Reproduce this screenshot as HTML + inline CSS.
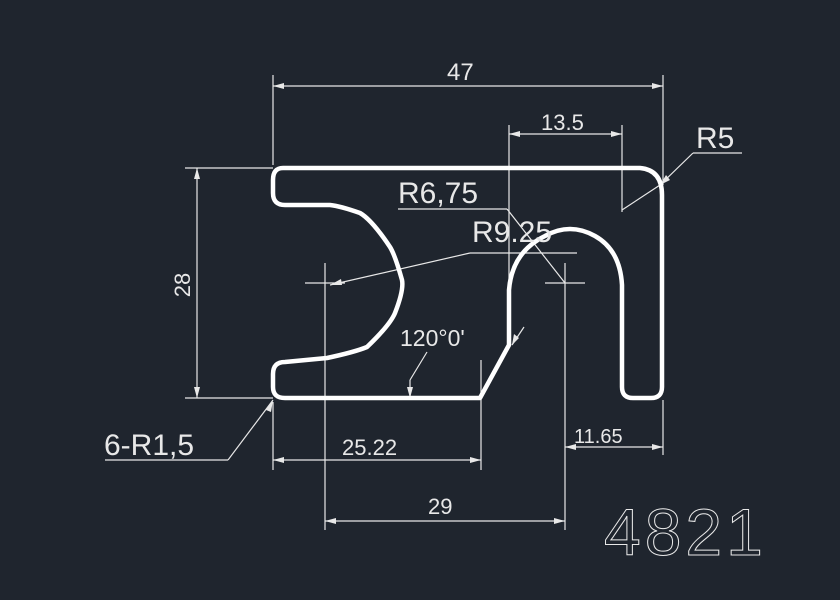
<!DOCTYPE html>
<html><head><style>
html,body{margin:0;padding:0;background:#1f252e;}
svg{display:block;}
text{font-family:"Liberation Sans",sans-serif;fill:#e8e8e8;}
text.o{fill:none;stroke:#e8e8e8;stroke-width:1;}
</style></head><body>
<svg width="840" height="600" viewBox="0 0 840 600" xmlns="http://www.w3.org/2000/svg">
<rect width="840" height="600" fill="#1f252e"/>
<g stroke="#e8e8e8" stroke-width="1.2" fill="none">
<line x1="273" y1="75" x2="273" y2="165"/>
<line x1="663" y1="75" x2="663" y2="185"/>
<line x1="273" y1="86" x2="663" y2="86"/>
<line x1="509" y1="125" x2="509" y2="283"/>
<line x1="622" y1="125" x2="622" y2="212"/>
<line x1="509" y1="134" x2="622" y2="134"/>
<line x1="693" y1="153" x2="742" y2="153"/>
<polyline points="693,153 660,185 622,210"/>
<line x1="185" y1="168" x2="273" y2="168"/>
<line x1="185" y1="398" x2="273" y2="398"/>
<line x1="197" y1="168" x2="197" y2="398"/>
<line x1="398" y1="209" x2="507" y2="209"/>
<line x1="507" y1="209" x2="565" y2="283"/>
<line x1="470" y1="253" x2="577" y2="253"/>
<line x1="470" y1="253" x2="330" y2="285"/>
<line x1="305" y1="283" x2="345" y2="283"/>
<line x1="325" y1="263" x2="325" y2="530"/>
<line x1="545" y1="283" x2="585" y2="283"/>
<line x1="565" y1="263" x2="565" y2="530"/>
<line x1="427" y1="352" x2="410" y2="380"/>
<line x1="410" y1="380" x2="410" y2="398"/>
<line x1="524" y1="327" x2="512" y2="345"/>
<line x1="481" y1="360" x2="481" y2="470"/>
<line x1="273" y1="402" x2="273" y2="470"/>
<line x1="273" y1="460" x2="481" y2="460"/>
<line x1="325" y1="521" x2="565" y2="521"/>
<line x1="565" y1="447" x2="663" y2="447"/>
<line x1="663" y1="400" x2="663" y2="455"/>
<line x1="105" y1="460" x2="228" y2="460"/>
<line x1="228" y1="460" x2="273" y2="400"/>
</g>
<g fill="#e8e8e8">
<polygon points="663,86 652,83 652,89"/><polygon points="273,86 284,83 284,89"/>
<polygon points="509,134 520,131 520,137"/><polygon points="622,134 611,131 611,137"/>
<polygon points="660,185 666,175 670,180"/>
<polygon points="330,285 341,279 342,285"/>
<polygon points="197,168 194,179 200,179"/><polygon points="197,398 194,387 200,387"/>
<polygon points="273,460 284,457 284,463"/><polygon points="481,460 470,457 470,463"/>
<polygon points="325,521 336,518 336,524"/><polygon points="565,521 554,518 554,524"/>
<polygon points="565,447 576,444 576,450"/><polygon points="663,447 652,444 652,450"/>
<polygon points="273,400 266,410 271,412"/>
<polygon points="410,398 407,387 413,387"/>
<polygon points="512,345 514,334 519,338"/>
</g>
<path d="M283,168 L640,168 Q662,170 662,195 L662,387 Q662,398 651,398 L633,398 Q622,398 622,387 L622,285 Q620,250 595,236 Q570,222 545,236 Q512,252 509,290 L509,345 L480,398 L285,398 Q273,398 273,387 L273,374 Q273,362 285,362 L327,358 Q355,352 367,347 Q390,325 395,313 Q404,290 402,280 Q395,255 390,247 Q372,220 360,213 Q340,206 330,205 L285,205 Q273,205 273,193 L273,180 Q273,168 283,168 Z" fill="none" stroke="#ffffff" stroke-width="4.5" stroke-linejoin="round"/>
<text x="447" y="80" font-size="24">47</text>
<text x="541" y="130" font-size="22">13.5</text>
<text x="696" y="148" font-size="30">R5</text>
<text x="398" y="203" font-size="30">R6,75</text>
<text x="472" y="242" font-size="30">R9.25</text>
<text x="400" y="346" font-size="23">120°0'</text>
<text transform="translate(190,285) rotate(-90)" font-size="22" text-anchor="middle">28</text>
<text x="342" y="455" font-size="22">25.22</text>
<text x="574" y="443" font-size="20">11.65</text>
<text x="428" y="514" font-size="22">29</text>
<text x="104" y="455" font-size="30">6-R1,5</text>
<text class="o" x="604" y="555" font-size="66" letter-spacing="4">4821</text>
</svg>
</body></html>
